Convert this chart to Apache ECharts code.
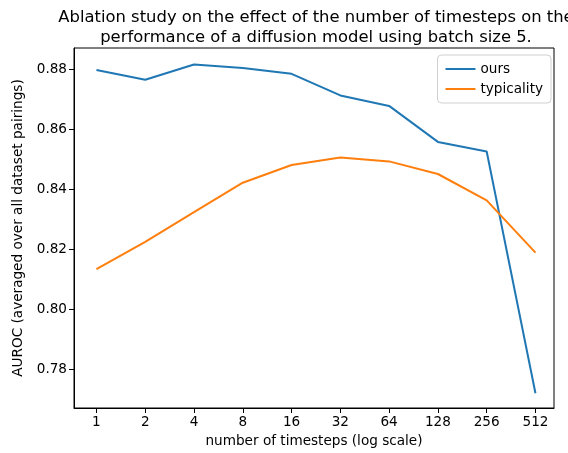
<!DOCTYPE html>
<html>
<head>
<meta charset="utf-8">
<script src="https://cdn.jsdelivr.net/npm/echarts@6/dist/echarts.min.js"></script>
<style>
html,body{margin:0;padding:0;background:#fff;}
#chart{width:568px;height:453px;}
</style>
</head>
<body>
<div id="chart"></div>
<script>
const categories = ['1','2','4','8','16','32','64','128','256','512'];
const oursValues = [0.8797, 0.8764, 0.8815, 0.8803, 0.8784, 0.8712, 0.8677, 0.8557, 0.8525, 0.7719];
const typicalityValues = [0.8133, 0.8224, 0.8323, 0.8421, 0.8480, 0.8505, 0.8492, 0.8450, 0.8362, 0.8188];
const yTickValues = [0.78, 0.80, 0.82, 0.84, 0.86, 0.88];

const font = 'DejaVu Sans';
const chart = echarts.init(document.getElementById('chart'), null, {renderer: 'canvas'});
const xIdx = categories.map((c, i) => i);

chart.setOption({
  animation: false,
  backgroundColor: '#fff',
  textStyle: {fontFamily: font},
  title: {
    text: 'Ablation study on the effect of the number of timesteps on the\nperformance of a diffusion model using batch size 5.',
    left: 311,
    top: 3,
    textAlign: 'center',
    textStyle: {fontFamily: font, fontSize: 16.4, fontWeight: 'normal', color: '#000', lineHeight: 20}
  },
  legend: {
    right: 17,
    top: 55,
    orient: 'vertical',
    align: 'left',
    backgroundColor: '#fff',
    borderColor: '#d0d0d0',
    borderWidth: 1,
    borderRadius: 4,
    padding: [7, 8, 7, 8],
    itemWidth: 30,
    itemHeight: 2,
    itemGap: 6,
    icon: 'rect',
    textStyle: {fontFamily: font, fontSize: 13.6, color: '#000'},
    data: ['ours', 'typicality']
  },
  grid: {
    left: 74, right: 14, top: 48, bottom: 44,
    show: true, borderColor: '#000', borderWidth: 1, backgroundColor: 'transparent'
  },
  xAxis: {
    type: 'value',
    min: -0.46,
    max: 9.38,
    name: 'number of timesteps (log scale)',
    nameLocation: 'middle',
    nameGap: 26,
    nameTextStyle: {fontFamily: font, fontSize: 13.6, color: '#000'},
    axisLine: {show: true, onZero: false, lineStyle: {color: '#000', width: 1}},
    axisTick: {show: true, length: 5, lineStyle: {color: '#000'}, customValues: xIdx},
    axisLabel: {
      color: '#000', fontSize: 13.6, fontFamily: font, margin: 7,
      customValues: xIdx,
      formatter: v => categories[Math.round(v)]
    },
    splitLine: {show: false}
  },
  yAxis: {
    type: 'value',
    min: 0.767,
    max: 0.887,
    name: 'AUROC (averaged over all dataset pairings)',
    nameLocation: 'middle',
    nameGap: 43,
    nameTextStyle: {fontFamily: font, fontSize: 13.6, color: '#000'},
    axisLine: {show: true, onZero: false, lineStyle: {color: '#000', width: 1}},
    axisTick: {show: true, length: 5, lineStyle: {color: '#000'}, customValues: yTickValues},
    axisLabel: {
      color: '#000', fontSize: 13.6, fontFamily: font, margin: 7,
      customValues: yTickValues,
      formatter: v => v.toFixed(2)
    },
    splitLine: {show: false}
  },
  series: [
    {
      name: 'ours',
      type: 'line',
      data: oursValues.map((v, i) => [i, v]),
      showSymbol: false,
      symbol: 'none',
      lineStyle: {color: '#1f77b4', width: 2},
      itemStyle: {color: '#1f77b4'}
    },
    {
      name: 'typicality',
      type: 'line',
      data: typicalityValues.map((v, i) => [i, v]),
      showSymbol: false,
      symbol: 'none',
      lineStyle: {color: '#ff7f0e', width: 2},
      itemStyle: {color: '#ff7f0e'}
    }
  ]
});
</script>
</body>
</html>
